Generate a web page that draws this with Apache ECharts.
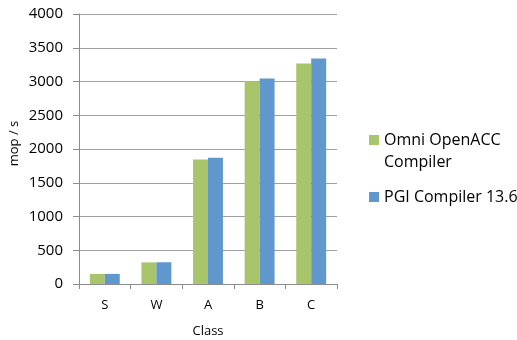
<!DOCTYPE html>
<html>
<head>
<meta charset="utf-8">
<script src="https://cdn.jsdelivr.net/npm/echarts@6/dist/echarts.min.js"></script>
<style>
  html, body { margin: 0; padding: 0; background: #fff; }
  #chart { width: 517px; height: 340px; }
</style>
</head>
<body>
<div id="chart"></div>
<script>
// Benchmark throughput per problem class
const categories = ['S', 'W', 'A', 'B', 'C'];
const omniValues = [150, 320, 1845, 3005, 3265];
const pgiValues = [150, 322, 1870, 3045, 3340];
const seriesNames = ['Omni OpenACC Compiler', 'PGI Compiler 13.6'];
const yTicks = { min: 0, max: 4000, interval: 500 };

const FONT = '"Open Sans", Lato, sans-serif';
const chart = echarts.init(document.getElementById('chart'));

chart.setOption({
  animation: false,
  textStyle: { fontFamily: FONT },
  grid: { left: 79, right: 180, top: 14, bottom: 56, containLabel: false, outerBoundsMode: 'none' },
  legend: [
    {
      // blank first line keeps the swatch level with the first text line
      data: [seriesNames[0]],
      orient: 'vertical',
      left: 369, top: 107,
      padding: 0,
      itemWidth: 10, itemHeight: 10,
      icon: 'rect',
      formatter: () => '\nOmni OpenACC\nCompiler',
      textStyle: { fontSize: 16, color: '#000', lineHeight: 22, fontFamily: FONT }
    },
    {
      data: [seriesNames[1]],
      orient: 'vertical',
      left: 369, top: 186,
      padding: 0,
      itemWidth: 10, itemHeight: 10,
      icon: 'rect',
      textStyle: { fontSize: 16, color: '#000', lineHeight: 22, fontFamily: FONT }
    }
  ],
  xAxis: {
    type: 'category',
    data: categories,
    name: 'Class',
    nameLocation: 'middle',
    nameGap: 41,
    nameTextStyle: { fontSize: 13, color: '#000' },
    axisLine: { lineStyle: { color: '#8c8c8c', width: 1 } },
    axisTick: { show: true, length: 5, lineStyle: { color: '#8c8c8c' } },
    axisLabel: { fontSize: 13, color: '#000', margin: 15 }
  },
  yAxis: {
    type: 'value',
    min: yTicks.min, max: yTicks.max, interval: yTicks.interval,
    name: 'mop / s',
    nameLocation: 'middle',
    nameGap: 58,
    nameTextStyle: { fontSize: 13, color: '#000', padding: [0, 0, 0, 11] },
    axisLine: { show: true, lineStyle: { color: '#8c8c8c', width: 1 } },
    axisTick: { show: true, length: 6, lineStyle: { color: '#8c8c8c' } },
    axisLabel: { fontSize: 15, color: '#000', margin: 16, formatter: v => String(v) },
    splitLine: { show: true, lineStyle: { color: '#a0a0a0', width: 1 } }
  },
  series: [
    {
      name: seriesNames[0], type: 'bar', data: omniValues,
      barGap: '0%', barCategoryGap: '42%',
      itemStyle: { color: '#A8C56B' }
    },
    {
      name: seriesNames[1], type: 'bar', data: pgiValues,
      barGap: '0%', barCategoryGap: '42%',
      itemStyle: { color: '#6098CD' }
    }
  ]
});
</script>
</body>
</html>
